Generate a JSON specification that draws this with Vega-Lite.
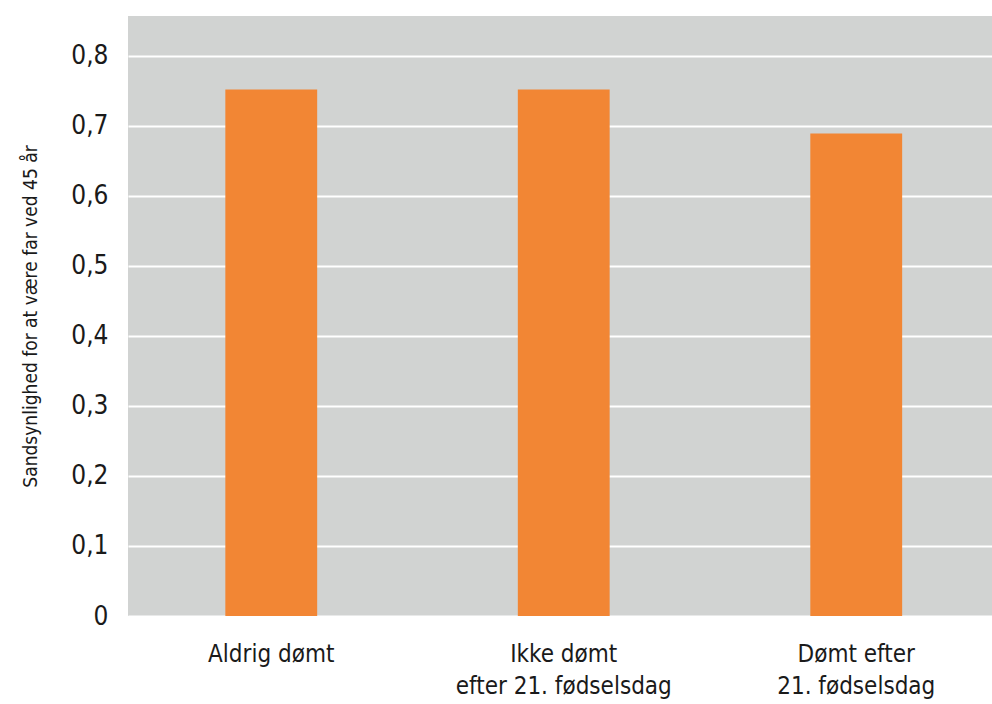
{
  "$schema": "https://vega.github.io/schema/vega-lite/v6.json",
  "width": 864,
  "height": 600,
  "autosize": "none",
  "padding": {"left": 128, "top": 16, "right": 0, "bottom": 88},
  "background": "white",
  "config": {
    "view": {"fill": "#d1d3d2", "stroke": null},
    "font": "DejaVu Sans Condensed, Liberation Sans Narrow, Roboto, sans-serif"
  },
  "data": {
    "values": [
      {"kategori": "Aldrig dømt", "p": 0.752},
      {"kategori": "Ikke dømt\nefter 21. fødselsdag", "p": 0.752},
      {"kategori": "Dømt efter\n21. fødselsdag", "p": 0.689}
    ]
  },
  "mark": {"type": "bar", "color": "#f28634"},
  "encoding": {
    "x": {
      "field": "kategori",
      "type": "nominal",
      "sort": null,
      "scale": {"paddingInner": 0.686, "paddingOuter": 0.32, "align": 0.52},
      "axis": {
        "title": null,
        "labelAngle": 0,
        "domain": false,
        "ticks": false,
        "labelFontSize": 24,
        "labelColor": "#1a1a1a",
        "labelPadding": 38,
        "labelLineHeight": 32,
        "labelBaseline": "middle",
        "labelLimit": 400,
        "labelExpr": "split(datum.label, '\\n')"
      }
    },
    "y": {
      "field": "p",
      "type": "quantitative",
      "scale": {"domain": [0, 0.857], "nice": false},
      "axis": {
        "title": "Sandsynlighed for at være far ved 45 år",
        "titleFontSize": 19,
        "titleFontWeight": "normal",
        "titleColor": "#1a1a1a",
        "titlePadding": 30,
        "values": [0, 0.1, 0.2, 0.3, 0.4, 0.5, 0.6, 0.7, 0.8],
        "labelExpr": "datum.value == 0 ? '0' : replace(format(datum.value, '.1f'), '.', ',')",
        "labelFontSize": 26,
        "labelColor": "#1a1a1a",
        "labelPadding": 20,
        "domain": false,
        "ticks": false,
        "grid": true,
        "gridColor": "white",
        "gridWidth": 2
      }
    }
  }
}
